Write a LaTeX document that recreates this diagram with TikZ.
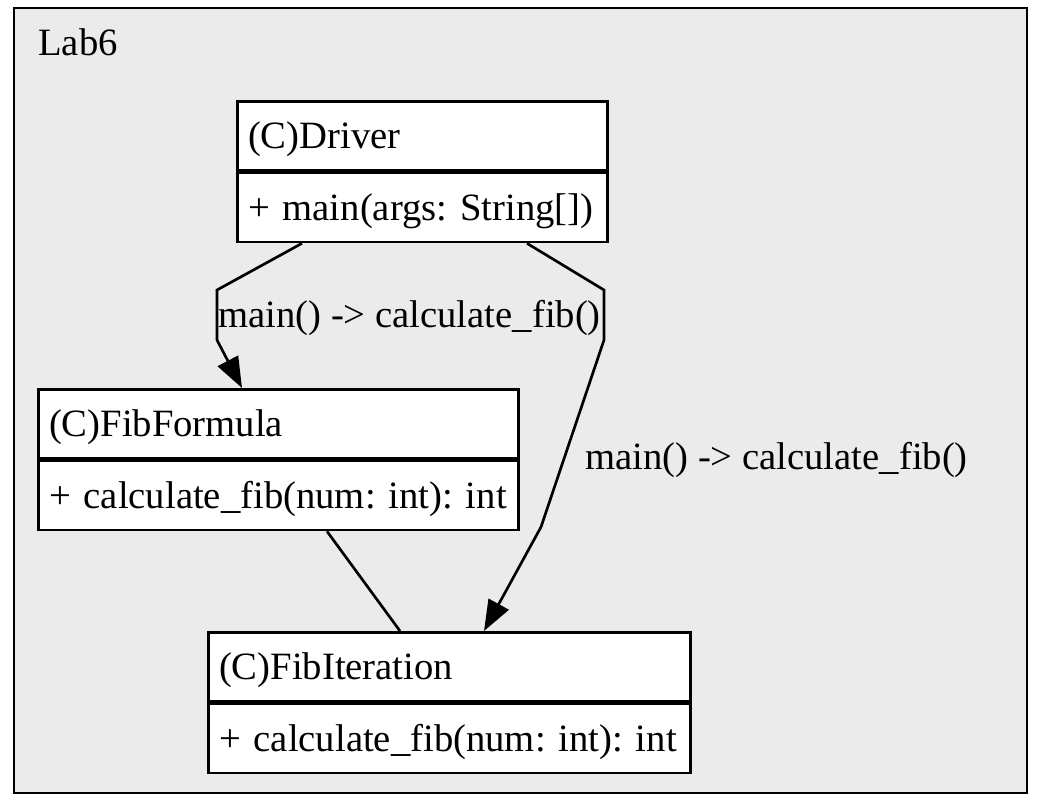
\documentclass[tikz,border=0pt]{standalone}
\usepackage{fontspec}
\setmainfont{Liberation Serif}
\usetikzlibrary{positioning, arrows.meta}
\definecolor{clusterbg}{HTML}{EBEBEB}
\newcommand{\LabelF}{\fontsize{29}{34}\selectfont}
\tikzset{
  classpart/.style={draw=black, line width=2pt, fill=white, anchor=north west,
    minimum height=51.75pt, inner xsep=8pt, inner ysep=0pt, text height=24.75pt,
    text depth=5.25pt, align=left, font=\LabelF},
  call/.style={draw=black, line width=2pt, -{Triangle[length=23pt,width=17pt]}},
  link/.style={draw=black, line width=2pt},
  calltext/.style={anchor=west, inner sep=0pt, font=\LabelF}
}
% name, top left corner, text width, title, operation
\newcommand{\umlclass}[5]{%
  \node[classpart, text width=#3] (#1) at (#2) {#4};
  \node[classpart, text width=#3] (#1-ops) at (#1.south west) {#5};
}

\begin{document}
\frenchspacing
\begin{tikzpicture}[x=0.75pt,y=-0.75pt]
\useasboundingbox (0,0) rectangle (1038,810);
% cluster
\draw[fill=clusterbg, draw=black, line width=2pt] (14,8) rectangle (1027,793);
\node[anchor=base west, inner sep=0pt, font=\LabelF] (lab6) at (38,55) {Lab6};
% classes
\umlclass{driver}{236,100}{261.5pt}{(C)Driver}{+ main(args: String[])}
\umlclass{fibformula}{37,388}{344pt}{(C)FibFormula}{+ calculate\_fib(num: int): int}
\umlclass{fibiteration}{207,631}{345.5pt}{(C)FibIteration}{+ calculate\_fib(num: int): int}
% calls
\draw[call] ([shift={(66,0)}]driver-ops.south west) -- (217,290) -- (217,340)
  -- ([shift={(205,0)}]fibformula.north west);
\draw[call] ([shift={(291,0)}]driver-ops.south west) -- (604,290) -- (604,340)
  -- (541,527) -- ([shift={(277,0)}]fibiteration.north west);
\draw[link] ([shift={(290,0)}]fibformula-ops.south west)
  -- ([shift={(193,0)}]fibiteration.north west);
\node[calltext] (call-formula) at (218,318) {main() -> calculate\_fib()};
\node[calltext] (call-iteration) at (585,460) {main() -> calculate\_fib()};
\end{tikzpicture}
\end{document}
